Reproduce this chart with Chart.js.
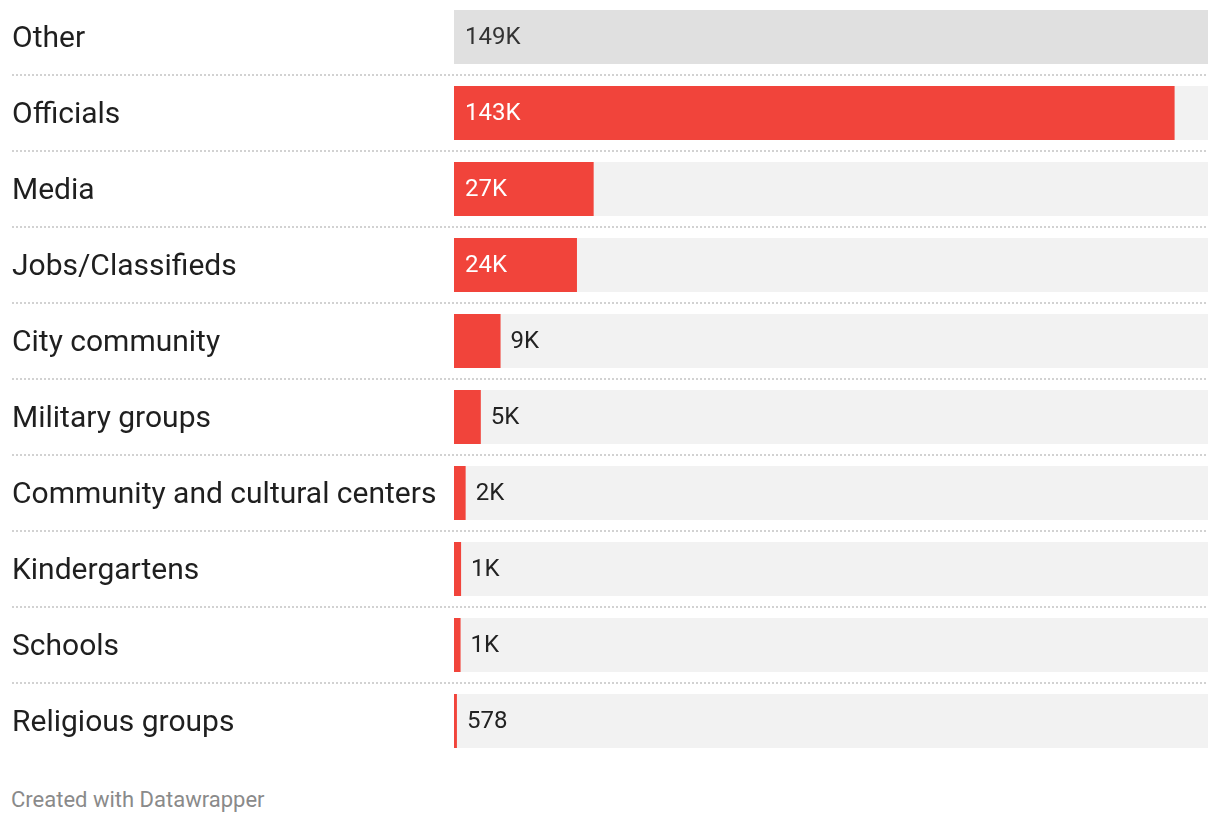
<!DOCTYPE html>
<html>
<head>
<meta charset="utf-8">
<script src="https://cdn.jsdelivr.net/npm/chart.js@4/dist/chart.umd.min.js"></script>
<style>
  html, body { margin: 0; padding: 0; background: #fff; }
  body { width: 1220px; height: 824px; position: relative; overflow: hidden; font-family: Roboto, sans-serif; }
  #wrap { position: absolute; left: 0; top: -1px; width: 1220px; height: 760px; }
  #footer { position: absolute; left: 11px; top: 787px; font-size: 22px; color: #8a8a8a; font-family: Roboto, sans-serif; }
</style>
</head>
<body>
<div id="wrap"><canvas id="c"></canvas></div>
<div id="footer">Created with Datawrapper</div>
<script>
const categories = ["Other", "Officials", "Media", "Jobs/Classifieds", "City community", "Military groups", "Community and cultural centers", "Kindergartens", "Schools", "Religious groups"];
const values = [149000, 142400, 27600, 24300, 9200, 5300, 2300, 1400, 1300, 578];
const valueLabels = ["149K", "143K", "27K", "24K", "9K", "5K", "2K", "1K", "1K", "578"];
const barColors = ["#e0e0e0", "#f1443b", "#f1443b", "#f1443b", "#f1443b", "#f1443b", "#f1443b", "#f1443b", "#f1443b", "#f1443b"];
const maxValue = Math.max(...values);
const trackValues = values.map(() => maxValue);

const separatorPlugin = {
  id: "separators",
  beforeDatasetsDraw(chart) {
    const ctx = chart.ctx, y = chart.scales.y;
    ctx.save();
    ctx.strokeStyle = "#d2d2d2";
    ctx.lineWidth = 2;
    ctx.setLineDash([2, 2]);
    for (let i = 0; i < categories.length - 1; i++) {
      const py = Math.round((y.getPixelForValue(i) + y.getPixelForValue(i + 1)) / 2);
      ctx.beginPath();
      ctx.moveTo(12, py);
      ctx.lineTo(chart.chartArea.right, py);
      ctx.stroke();
    }
    ctx.restore();
  }
};

const valueLabelPlugin = {
  id: "valueLabels",
  afterDatasetsDraw(chart) {
    const ctx = chart.ctx;
    const meta = chart.getDatasetMeta(1);
    ctx.save();
    ctx.font = "24px Roboto, sans-serif";
    ctx.textBaseline = "middle";
    ctx.textAlign = "left";
    meta.data.forEach((bar, i) => {
      const txt = valueLabels[i];
      const w = ctx.measureText(txt).width;
      const left = bar.base, right = bar.x;
      const bw = right - left;
      if (bw >= w + 22) {
        ctx.fillStyle = i === 0 ? "#333333" : "#ffffff";
        ctx.fillText(txt, left + 11, bar.y + 1);
      } else {
        ctx.fillStyle = "#222222";
        ctx.fillText(txt, right + 10, bar.y + 1);
      }
    });
    ctx.restore();
  }
};

new Chart(document.getElementById("c"), {
  type: "bar",
  data: {
    labels: categories,
    datasets: [
      { data: trackValues, backgroundColor: "#f2f2f2", grouped: false, order: 2, barPercentage: 54 / 76, categoryPercentage: 1 },
      { data: values, backgroundColor: barColors, grouped: false, order: 1, barPercentage: 54 / 76, categoryPercentage: 1 }
    ]
  },
  options: {
    indexAxis: "y",
    responsive: true,
    maintainAspectRatio: false,
    animation: false,
    layout: { padding: { left: 12, right: 12, top: 0, bottom: 0 } },
    plugins: { legend: { display: false }, tooltip: { enabled: false } },
    scales: {
      x: { display: false, min: 0, max: maxValue },
      y: {
        grid: { display: false },
        border: { display: false },
        ticks: {
          crossAlign: "far",
          color: "#1f1f1f",
          font: { family: "Roboto, sans-serif", size: 30 },
          padding: 0,
          labelOffset: 2
        },
        afterFit(scale) {
          scale.width = 442;
          scale.paddingTop = 0;
          scale.paddingBottom = 0;
        }
      }
    }
  },
  plugins: [separatorPlugin, valueLabelPlugin]
});
</script>
</body>
</html>
